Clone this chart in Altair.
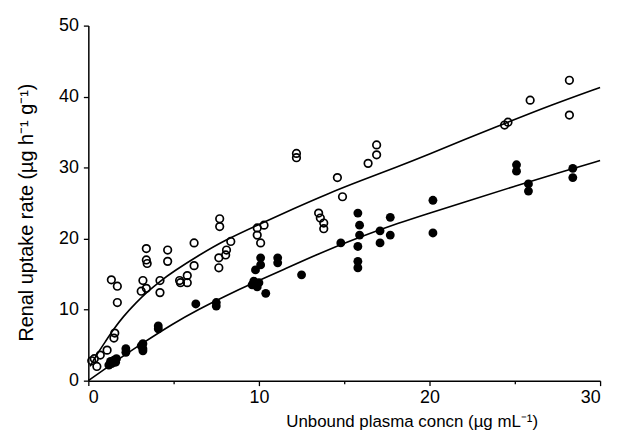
import altair as alt
import pandas as pd

# Open circles
open_x = [0.2, 0.35, 0.5, 0.7, 1.1, 1.5, 1.55, 1.35, 1.7, 1.7, 3.4, 3.4, 3.45, 4.65, 4.65,
          3.2, 3.1, 3.4, 4.2, 4.2, 5.35, 5.4, 5.8, 5.8, 6.2, 6.2, 7.7, 7.7, 8.35, 8.1,
          8.05, 7.65, 7.65, 9.9, 10.3, 9.9, 10.1, 13.5, 13.6, 13.8, 13.8, 12.2, 12.2,
          16.9, 16.9, 16.4, 14.6, 14.9, 28.2, 25.9, 24.6, 24.4, 28.2]
open_y = [2.8, 3.1, 2.0, 3.6, 4.3, 6.0, 6.7, 14.2, 13.3, 11.0, 18.6, 17.0, 16.5, 18.4, 16.8,
          14.1, 12.6, 13.0, 14.1, 12.4, 14.1, 13.8, 14.8, 13.8, 16.2, 19.4, 22.8, 21.7, 19.6, 18.4,
          17.7, 17.3, 15.9, 21.5, 21.9, 20.5, 19.4, 23.6, 22.9, 22.2, 21.4, 32.0, 31.4,
          33.2, 31.8, 30.6, 28.6, 25.9, 42.3, 39.5, 36.4, 36.0, 37.4]

# Filled circles
filled_x = [1.3, 1.37, 1.5, 1.65, 1.6, 1.2, 2.2, 2.2, 3.1, 3.2, 3.2, 3.2, 4.1, 4.1, 6.3,
            7.5, 7.5, 10.1, 10.1, 11.1, 11.1, 9.8, 9.7, 9.6, 9.9, 10.0, 10.4, 12.5, 14.8,
            15.8, 15.9, 15.9, 15.8, 15.8, 15.8, 17.1, 17.1, 17.7, 17.7, 20.2, 20.2,
            25.1, 25.1, 25.8, 25.8, 28.4, 28.4]
filled_y = [2.7, 2.4, 2.9, 3.1, 2.6, 2.2, 4.5, 4.0, 4.9, 4.5, 4.2, 5.2, 7.7, 7.3, 10.8,
            11.0, 10.5, 17.3, 16.3, 17.3, 16.6, 15.6, 14.0, 13.5, 13.2, 13.8, 12.3, 14.9, 19.4,
            23.6, 21.9, 20.5, 18.9, 16.8, 15.9, 21.1, 19.4, 23.0, 20.5, 25.4, 20.8,
            30.4, 29.5, 27.7, 26.7, 29.9, 28.6]

# Fitted curves
curve_open_x = [0.1, 0.5, 1.0, 1.5, 2.0, 2.8, 3.5, 4.2, 5.0, 6.5, 8.0, 10.0, 12.0, 14.0,
                16.0, 18.0, 20.0, 22.0, 24.6, 27.0, 30.0]
curve_open_y = [2.0, 3.7, 5.5, 7.3, 8.9, 11.0, 12.6, 14.0, 15.4, 17.7, 19.8, 22.0, 24.2, 26.3,
                28.2, 30.0, 31.9, 33.9, 36.4, 38.7, 41.3]
curve_filled_x = [0.0, 1.0, 2.0, 3.0, 5.0, 6.5, 8.0, 9.8, 11.4, 13.5, 16.0, 18.2, 20.0, 22.0,
                  25.0, 28.0, 30.0]
curve_filled_y = [0.0, 1.7, 3.4, 5.0, 8.1, 10.1, 11.9, 13.9, 15.6, 17.9, 20.3, 22.2, 23.6, 25.1,
                  27.4, 29.6, 31.0]

df_open = pd.DataFrame({"x": open_x, "y": open_y})
df_filled = pd.DataFrame({"x": filled_x, "y": filled_y})
df_co = pd.DataFrame({"x": curve_open_x, "y": curve_open_y})
df_cf = pd.DataFrame({"x": curve_filled_x, "y": curve_filled_y})

FONT = "Liberation Sans"

x_enc = alt.X(
    "x:Q",
    scale=alt.Scale(domain=[0, 30], nice=False, zero=True),
    axis=alt.Axis(
        values=[0, 5, 10, 15, 20, 25, 30],
        labelExpr="datum.value % 10 === 0 ? datum.label : ''",
        tickSize={"condition": {"test": "datum.value % 10 === 0", "value": 5}, "value": 3},
        grid=False,
        title="Unbound plasma concn (µg mL⁻¹)",
        titleX=326, titleY=41, titleBaseline="middle", titleAlign="center",
        titleFontWeight="normal", titleFontSize=17, titleFont=FONT, titleColor="black",
        labelFont=FONT, labelFontSize=18, labelColor="black", labelPadding=3,
        domainColor="black", domainWidth=1.5, tickColor="black", tickWidth=1.3,
    ),
)
y_enc = alt.Y(
    "y:Q",
    scale=alt.Scale(domain=[0, 50], nice=False),
    axis=alt.Axis(
        values=[0, 5, 10, 15, 20, 25, 30, 35, 40, 45, 50],
        labelExpr="datum.value % 10 === 0 ? datum.label : ''",
        tickSize={"condition": {"test": "datum.value % 10 === 0", "value": 5}, "value": 3},
        grid=False,
        title="Renal uptake rate (µg h⁻¹ g⁻¹)",
        titleAngle=-90, titleX=-62, titleY=188, titleBaseline="middle", titleAlign="center",
        titleFontWeight="normal", titleFontSize=20, titleFont=FONT, titleColor="black",
        labelFont=FONT, labelFontSize=18, labelColor="black", labelPadding=5,
        domainColor="black", domainWidth=1.5, tickColor="black", tickWidth=1.3,
    ),
)

open_pts = alt.Chart(df_open).mark_point(
    shape="circle", filled=False, stroke="black", strokeWidth=1.7, size=58, opacity=1
).encode(x=x_enc, y=y_enc)

filled_pts = alt.Chart(df_filled).mark_circle(
    color="black", size=80, opacity=1
).encode(x="x:Q", y="y:Q")

line_open = alt.Chart(df_co).mark_line(
    color="black", strokeWidth=1.6, interpolate="basis"
).encode(x="x:Q", y="y:Q", order="x:Q")

line_filled = alt.Chart(df_cf).mark_line(
    color="black", strokeWidth=1.6, interpolate="basis"
).encode(x="x:Q", y="y:Q", order="x:Q")

chart = alt.layer(open_pts, line_open, line_filled, filled_pts).properties(
    width=516,
    height=358,
    autosize=alt.AutoSizeParams(type="none"),
    padding={"left": 81, "top": 16, "right": 12, "bottom": 50},
    background="white",
).configure_view(stroke=None)

chart.save("out.html", embed_options={"renderer": "svg", "actions": False})
